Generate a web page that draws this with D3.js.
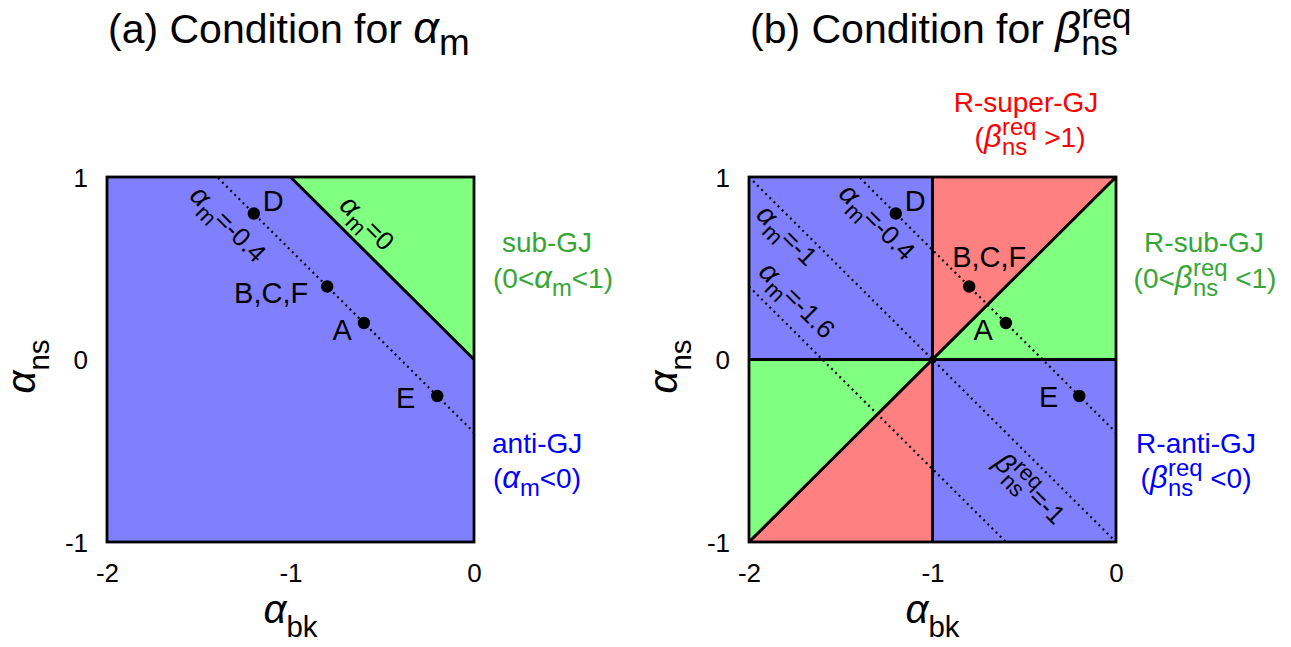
<!DOCTYPE html>
<html>
<head>
<meta charset="utf-8">
<script src="https://cdn.jsdelivr.net/npm/d3@7"></script>
<style>
  body { margin: 0; background: #fff; }
  svg { display: block; }
  text { font-family: "Liberation Sans", Arial, Helvetica, sans-serif; white-space: pre; }
</style>
</head>
<body>
<svg id="chart" width="1291" height="647"></svg>
<script>
// ---- data ----
const xTicks = [-2, -1, 0];
const yTicks = [-1, 0, 1];
const bkDomain = [-2, 0];
const nsDomain = [-1, 1];

// benchmark points (alpha_bk, alpha_ns)
const pointNames = ["D", "B,C,F", "A", "E"];
const pointBk = [-1.2, -0.8, -0.6, -0.2];
const pointNs = [0.8, 0.4, 0.2, -0.2];

// dotted contours of constant alpha_m = alpha_bk + alpha_ns
const contoursA = [-0.4];
const contoursB = [-0.4, -1, -1.6];

// shaded regions (vertices in alpha_bk, alpha_ns)
const regionsA = [
  { kind: "anti",  pts: [[-2, -1], [0, -1], [0, 0], [-1, 1], [-2, 1]] },
  { kind: "sub",   pts: [[-1, 1], [0, 1], [0, 0]] }
];
const regionsB = [
  { kind: "anti",  pts: [[-2, 0], [-1, 0], [-1, 1], [-2, 1]] },
  { kind: "super", pts: [[-1, 0], [-1, 1], [0, 1]] },
  { kind: "sub",   pts: [[-1, 0], [0, 1], [0, 0]] },
  { kind: "sub",   pts: [[-2, -1], [-1, 0], [-2, 0]] },
  { kind: "super", pts: [[-2, -1], [-1, -1], [-1, 0]] },
  { kind: "anti",  pts: [[-1, -1], [0, -1], [0, 0], [-1, 0]] }
];

// solid boundaries
const boundsA = [[[-1, 1], [0, 0]]];
const boundsB = [[[-1, -1], [-1, 1]], [[-2, 0], [0, 0]], [[-2, -1], [0, 1]]];

// ---- styles ----
const fills = { anti: "#8080ff", sub: "#80ff80", super: "#ff8080" };
const textCol = { anti: "#0000ff", sub: "#36a636", super: "#ff0000" };
const GREEK = '"Liberation Serif", "DejaVu Serif", serif';

const svg = d3.select("#chart");

// Build a run of text pieces (with sub/superscripts) inside a group.
function rich(parent, pieces, size, anchor) {
  const g = parent.append("g");
  let x = 0, lastStart = 0;
  pieces.forEach(p => {
    const fs = size * (p.scale || 1);
    const t = g.append("text")
      .attr("font-size", fs)
      .attr("y", (p.dy || 0) * size)
      .text(p.t);
    if (p.greek) t.attr("font-family", GREEK).attr("font-style", "italic");
    const start = p.stack ? lastStart : x + (p.dx || 0) * size;
    t.attr("x", start);
    const w = t.node().getComputedTextLength();
    if (p.stack) {
      x = Math.max(x, start + w);
    } else {
      lastStart = start;
      x = start + w;
    }
  });
  const shift = anchor === "middle" ? -x / 2 : anchor === "end" ? -x : 0;
  g.selectAll("text").attr("x", function () { return +this.getAttribute("x") + shift; });
  return g;
}

const alpha = (sub, s = 1.1, ss = 0.85, sdy = 0.3) => [
  { t: "α", greek: true, scale: s },
  { t: sub, scale: ss, dy: sdy }
];
const betaReq = (s = 1.1) => [
  { t: "β", greek: true, scale: s },
  { t: "req", scale: 0.85, dy: -0.42, dx: 0.02 },
  { t: "ns", scale: 0.85, dy: 0.3, stack: true }
];

function panel(cfg) {
  const x = d3.scaleLinear().domain(bkDomain).range([cfg.left, cfg.left + 367]);
  const y = d3.scaleLinear().domain(nsDomain).range([542, 177]);
  const g = svg.append("g");
  const line = d3.line().x(d => x(d[0])).y(d => y(d[1]));

  const clipId = "clip-" + cfg.id;
  svg.append("clipPath").attr("id", clipId)
    .append("rect")
    .attr("x", x(bkDomain[0])).attr("y", y(nsDomain[1]))
    .attr("width", x(bkDomain[1]) - x(bkDomain[0]))
    .attr("height", y(nsDomain[0]) - y(nsDomain[1]));

  // regions
  g.selectAll("path.region").data(cfg.regions).join("path")
    .attr("class", "region")
    .attr("d", d => line(d.pts) + "Z")
    .attr("fill", d => fills[d.kind])
    .attr("stroke", d => fills[d.kind])
    .attr("stroke-width", 0.5);

  // dotted contours alpha_ns = m - alpha_bk
  g.append("g").attr("clip-path", `url(#${clipId})`)
    .selectAll("path").data(cfg.contours).join("path")
    .attr("d", m => line([[bkDomain[0], m - bkDomain[0]], [bkDomain[1], m - bkDomain[1]]]))
    .attr("fill", "none")
    .attr("stroke", "#000")
    .attr("stroke-width", 2.2)
    .attr("stroke-dasharray", "2,3.8");

  // solid boundaries
  g.selectAll("path.bound").data(cfg.bounds).join("path")
    .attr("class", "bound")
    .attr("d", d => line(d))
    .attr("fill", "none")
    .attr("stroke", "#000")
    .attr("stroke-width", 3);

  // frame
  g.append("rect")
    .attr("x", x(bkDomain[0])).attr("y", y(nsDomain[1]))
    .attr("width", x(bkDomain[1]) - x(bkDomain[0]))
    .attr("height", y(nsDomain[0]) - y(nsDomain[1]))
    .attr("fill", "none").attr("stroke", "#000").attr("stroke-width", 2.8);

  // axes (labels only)
  const ax = g.append("g").attr("transform", `translate(0,${y(-1) + 40})`)
    .call(d3.axisBottom(x).tickValues(xTicks).tickSize(0).tickPadding(0).tickFormat(d => String(d)));
  const ay = g.append("g").attr("transform", `translate(${x(-2) - 19},0)`)
    .call(d3.axisLeft(y).tickValues(yTicks).tickSize(0).tickPadding(0).tickFormat(d => String(d)));
  [ax, ay].forEach(a => {
    a.select(".domain").remove();
    a.selectAll("text").attr("font-size", 26).attr("fill", "#000")
      .attr("font-family", '"Liberation Sans", Arial, sans-serif');
  });
  ax.selectAll("text").attr("dy", 0).attr("y", 0);
  ay.selectAll("text").attr("dy", "0.36em");

  // axis titles
  rich(g, alpha("bk", 1.3, 0.95, 0.45), 31, "middle")
    .attr("transform", `translate(${x(-1)},${y(-1) + 81})`);
  rich(g, alpha("ns", 1.3, 0.95, 0.45), 31, "middle")
    .attr("transform", `translate(${x(-2) - 72},${y(0) + 7}) rotate(-90)`);

  // panel title
  rich(g, [{ t: cfg.title }].concat(cfg.titleSym), 41, "start")
    .attr("transform", `translate(${x(-2) + 1},43)`);

  // points
  pointNames.forEach((name, i) => {
    const px = x(pointBk[i]), py = y(pointNs[i]);
    g.append("circle").attr("cx", px).attr("cy", py).attr("r", 6.2).attr("fill", "#000");
    const o = cfg.pointLabel[name];
    g.append("text").attr("x", px + o[0]).attr("y", py + o[1])
      .attr("text-anchor", o[2]).attr("font-size", 29).text(name);
  });

  // contour labels, set along the 45-degree lines
  cfg.contourLabels.forEach(l => {
    rich(g, l.pieces, 26, "middle")
      .attr("transform", `translate(${x(l.at[0])},${y(l.at[1])}) rotate(45) translate(0,9)`);
  });

  // side labels
  cfg.side.forEach(s => {
    rich(g, s.pieces, 28, s.anchor || "start")
      .attr("fill", textCol[s.kind])
      .attr("transform", `translate(${s.pos[0]},${s.pos[1]})`);
  });
}

const mEq = v => alpha("m", 1.1, 0.85, 0.3).concat([{ t: "=" + v }]);

panel({
  id: "a", left: 107,
  title: "(a) Condition for ",
  titleSym: [{ t: "α", greek: true, scale: 1.1 }, { t: "m", scale: 0.9, dy: 0.3 }],
  regions: regionsA, contours: contoursA, bounds: boundsA,
  pointLabel: { "D": [9, -3, "start"], "B,C,F": [-19, 16, "end"], "A": [-12, 17, "end"], "E": [-22, 12, "end"] },
  contourLabels: [
    { pieces: mEq("-0.4"), at: [-1.34, 0.742] },
    { pieces: mEq("0"), at: [-0.583, 0.747] }
  ],
  side: [
    { kind: "sub", pos: [547, 252], anchor: "middle", pieces: [{ t: "sub-GJ" }] },
    { kind: "sub", pos: [553, 288], anchor: "middle",
      pieces: [{ t: "(0<" }].concat(alpha("m"), [{ t: "<1)" }]) },
    { kind: "anti", pos: [492, 453], pieces: [{ t: "anti-GJ" }] },
    { kind: "anti", pos: [493, 488], pieces: [{ t: "(" }].concat(alpha("m"), [{ t: "<0)" }]) }
  ]
});

panel({
  id: "b", left: 749,
  title: "(b) Condition for ",
  titleSym: [{ t: "β", greek: true, scale: 1.1 }, { t: "req", scale: 0.85, dy: -0.36 },
             { t: "ns", scale: 0.85, dy: 0.3, stack: true }],
  regions: regionsB, contours: contoursB, bounds: boundsB,
  pointLabel: { "D": [9, -3, "start"], "B,C,F": [-17, -20, "start"], "A": [-13, 17, "end"], "E": [-21, 11, "end"] },
  contourLabels: [
    { pieces: mEq("-0.4"), at: [-1.302, 0.753] },
    { pieces: mEq("-1"), at: [-1.793, 0.68] },
    { pieces: mEq("-1.6"), at: [-1.738, 0.324] },
    { pieces: betaReq().concat([{ t: "=-1" }]), at: [-0.469, -0.709] }
  ],
  side: [
    { kind: "super", pos: [1026, 112], anchor: "middle", pieces: [{ t: "R-super-GJ" }] },
    { kind: "super", pos: [1030, 147], anchor: "middle",
      pieces: [{ t: "(" }].concat(betaReq(), [{ t: " >1)" }]) },
    { kind: "sub", pos: [1204, 252], anchor: "middle", pieces: [{ t: "R-sub-GJ" }] },
    { kind: "sub", pos: [1205, 288], anchor: "middle",
      pieces: [{ t: "(0<" }].concat(betaReq(), [{ t: " <1)" }]) },
    { kind: "anti", pos: [1196, 453], anchor: "middle", pieces: [{ t: "R-anti-GJ" }] },
    { kind: "anti", pos: [1196, 488], anchor: "middle",
      pieces: [{ t: "(" }].concat(betaReq(), [{ t: " <0)" }]) }
  ]
});
</script>
</body>
</html>
